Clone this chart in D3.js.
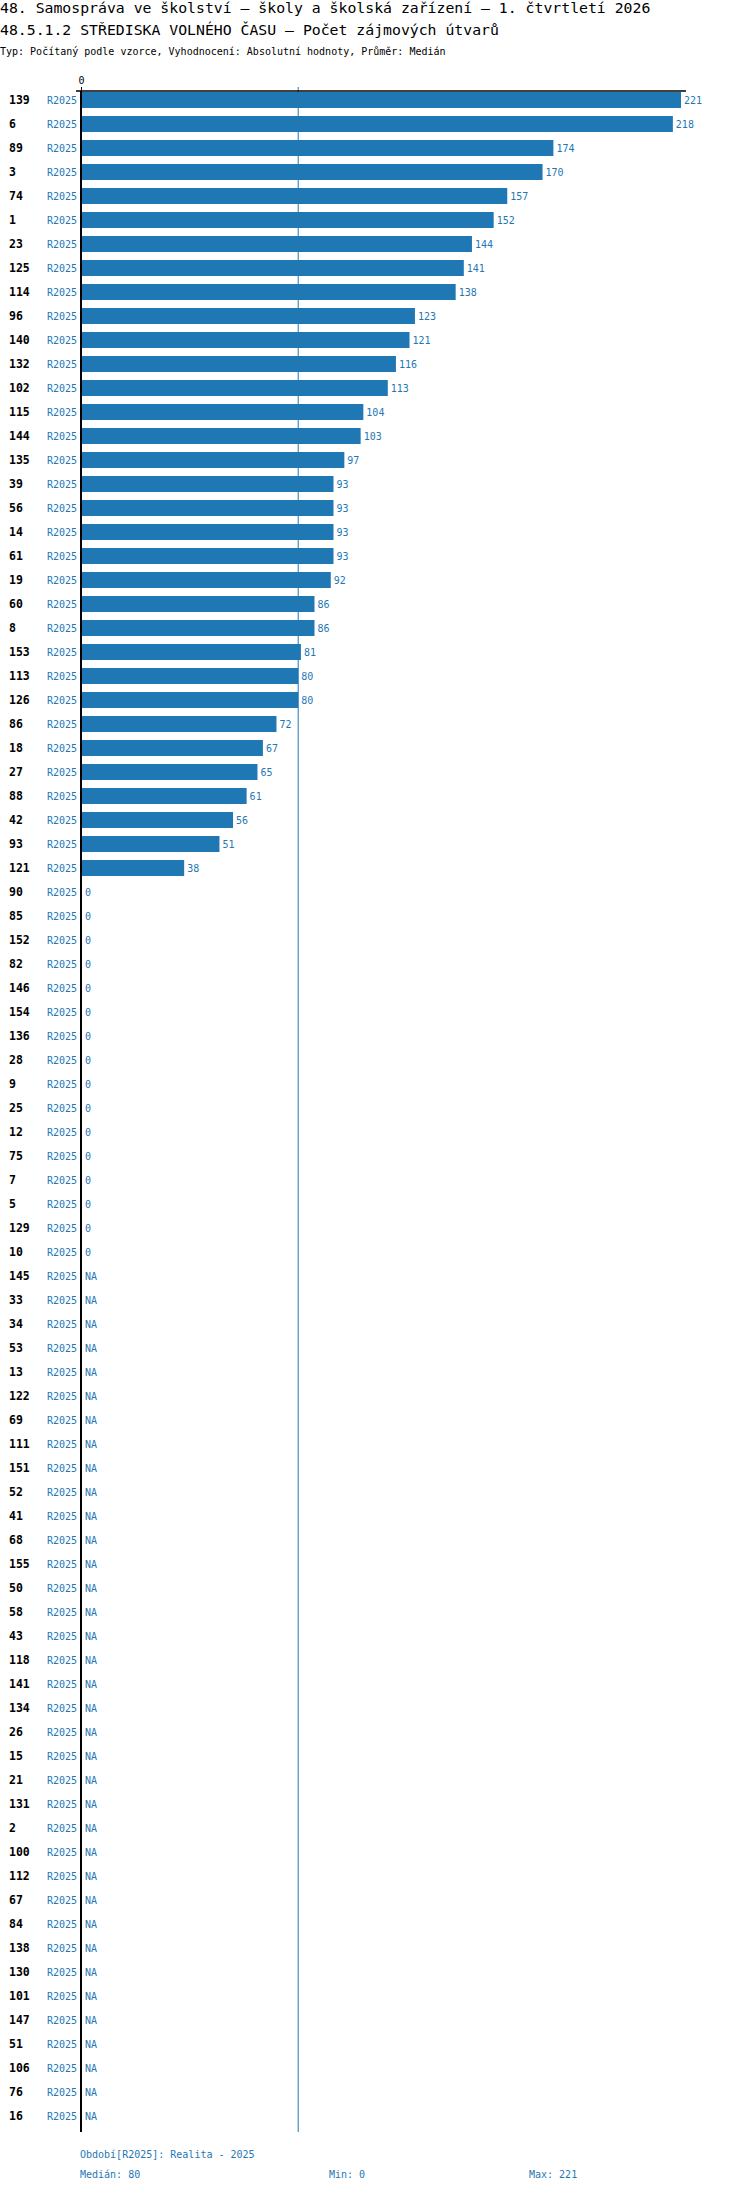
<!DOCTYPE html>
<html>
<head>
<meta charset="utf-8">
<script src="https://cdn.jsdelivr.net/npm/d3@7"></script>
<style>
  body { margin: 0; background: #fff; }
  text { font-family: "DejaVu Sans Mono", monospace; }
</style>
</head>
<body>
<div id="chart"></div>
<script>
// chart data
const categories = ["139","6","89","3","74","1","23","125","114","96","140","132","102","115","144","135","39","56","14","61","19","60","8","153","113","126","86","18","27","88","42","93","121","90","85","152","82","146","154","136","28","9","25","12","75","7","5","129","10","145","33","34","53","13","122","69","111","151","52","41","68","155","50","58","43","118","141","134","26","15","21","131","2","100","112","67","84","138","130","101","147","51","106","76","16"];
const values = [221,218,174,170,157,152,144,141,138,123,121,116,113,104,103,97,93,93,93,93,92,86,86,81,80,80,72,67,65,61,56,51,38,
  0,0,0,0,0,0,0,0,0,0,0,0,0,0,0,0,
  null,null,null,null,null,null,null,null,null,null,null,null,null,null,null,null,null,null,
  null,null,null,null,null,null,null,null,null,null,null,null,null,null,null,null,null,null];
const period = "R2025";
const xTicks = [0];

const titleLines = [
  "48. Samospráva ve školství – školy a školská zařízení – 1. čtvrtletí 2026",
  "48.5.1.2 STŘEDISKA VOLNÉHO ČASU – Počet zájmových útvarů"
];
const subtitle = "Typ: Počítaný podle vzorce, Vyhodnocení: Absolutní hodnoty, Průměr: Medián";
const footerPeriod = "Období[R2025]: Realita - 2025";

const blue = "#1f77b4";
const width = 750, height = 2192;

const data = categories.map((c, i) => ({name: c, value: values[i]}));
const known = values.filter(v => v !== null);
const median = d3.median(known);
const minV = d3.min(known);
const maxV = d3.max(known);

const svg = d3.select("#chart").append("svg")
  .attr("width", width)
  .attr("height", height);

// titles
svg.selectAll(".title")
  .data(titleLines)
  .enter()
  .append("text")
  .attr("class", "title")
  .attr("x", 0)
  .attr("y", (d, i) => 13 + i * 22)
  .attr("font-size", "14.8px")
  .attr("fill", "#000")
  .text(d => d);

svg.append("text")
  .attr("x", 0)
  .attr("y", 55)
  .attr("font-size", "10px")
  .attr("fill", "#000")
  .text(subtitle);

// scales
const x = d3.scaleLinear()
  .domain([0, maxV])
  .range([81, 681]);

const y = d3.scaleBand()
  .domain(categories)
  .range([88, 88 + categories.length * 24])
  .paddingInner(1 / 3)
  .paddingOuter(1 / 6);

const axisBottomY = y.range()[1] + 4;

// median line
svg.append("line")
  .attr("x1", x(median)).attr("x2", x(median))
  .attr("y1", 87).attr("y2", axisBottomY)
  .attr("stroke", blue)
  .attr("stroke-width", 1);

// bars
svg.selectAll(".bar")
  .data(data.filter(d => d.value !== null && d.value > 0))
  .enter()
  .append("rect")
  .attr("class", "bar")
  .attr("x", x(0))
  .attr("y", d => y(d.name))
  .attr("width", d => x(d.value) - x(0))
  .attr("height", y.bandwidth())
  .attr("fill", blue);

// value labels
svg.selectAll(".val")
  .data(data)
  .enter()
  .append("text")
  .attr("class", "val")
  .attr("x", d => (d.value ? x(d.value) : x(0) + 1) + 3)
  .attr("y", d => y(d.name) + y.bandwidth() / 2)
  .attr("dy", "0.35em")
  .attr("font-size", "10px")
  .attr("fill", blue)
  .text(d => d.value === null ? "NA" : d.value);

// category labels
svg.selectAll(".cat")
  .data(data)
  .enter()
  .append("text")
  .attr("class", "cat")
  .attr("x", 9)
  .attr("y", d => y(d.name) + y.bandwidth() / 2)
  .attr("dy", "0.35em")
  .attr("font-size", "11.5px")
  .attr("font-weight", "bold")
  .attr("fill", "#000")
  .text(d => d.name);

// period labels
svg.selectAll(".per")
  .data(data)
  .enter()
  .append("text")
  .attr("class", "per")
  .attr("x", 77)
  .attr("y", d => y(d.name) + y.bandwidth() / 2)
  .attr("dy", "0.35em")
  .attr("text-anchor", "end")
  .attr("font-size", "10px")
  .attr("fill", blue)
  .text(period);

// top axis
const axis = svg.append("g")
  .attr("transform", "translate(0,91)")
  .call(d3.axisTop(x).tickValues(xTicks).tickSize(4).tickSizeOuter(0));
axis.select(".domain").remove();
axis.selectAll(".tick line").attr("stroke", "#000");
axis.selectAll(".tick text")
  .attr("font-family", "DejaVu Sans Mono, monospace")
  .attr("font-size", "10px")
  .attr("fill", "#000");

svg.append("line")
  .attr("x1", x(0) - 5).attr("x2", x(maxV) + 5)
  .attr("y1", 91).attr("y2", 91)
  .attr("stroke", "#000")
  .attr("stroke-width", 1.5);

svg.append("line")
  .attr("x1", x(0)).attr("x2", x(0))
  .attr("y1", 91).attr("y2", axisBottomY)
  .attr("stroke", "#000")
  .attr("stroke-width", 2);

// footer
svg.append("text")
  .attr("x", 80).attr("y", 2158)
  .attr("font-size", "10px")
  .attr("fill", blue)
  .text(footerPeriod);

const footerStats = [
  {label: "Medián: " + median, x: 80},
  {label: "Min: " + minV, x: 329},
  {label: "Max: " + maxV, x: 529}
];
svg.selectAll(".stat")
  .data(footerStats)
  .enter()
  .append("text")
  .attr("class", "stat")
  .attr("x", d => d.x)
  .attr("y", 2178)
  .attr("font-size", "10px")
  .attr("fill", blue)
  .text(d => d.label);
</script>
</body>
</html>
